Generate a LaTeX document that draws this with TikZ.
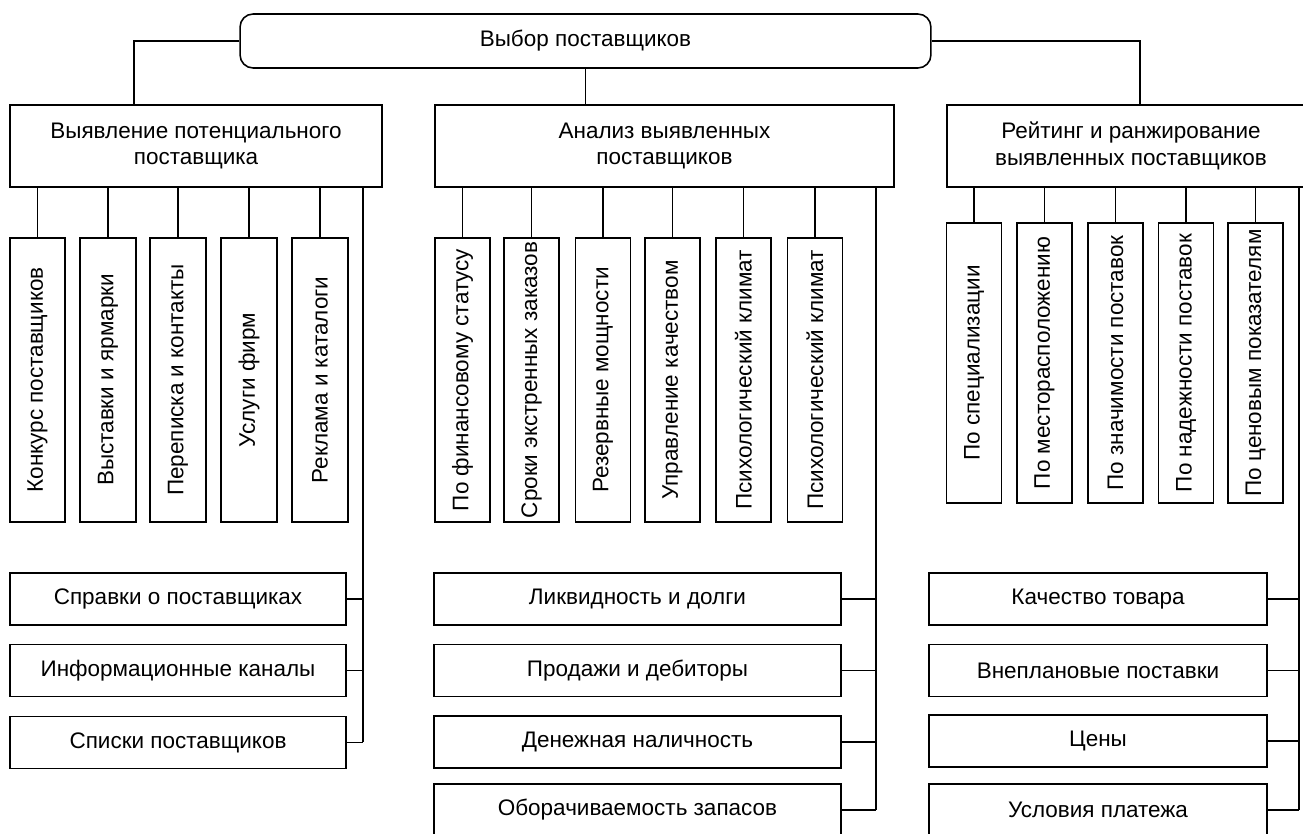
\documentclass[tikz,border=0pt]{standalone}
\usepackage{fontspec}
\setmainfont{Liberation Sans}
\begin{document}
\begin{tikzpicture}[x=0.02cm,y=-0.02cm,
  every node/.style={font=\fontsize{12.8}{15.2}\selectfont},
  box/.style={draw, line width=0.9pt, inner sep=0pt, align=center, rectangle},
  topbox/.style={box, rounded corners=0.26cm, minimum width=13.82cm, minimum height=1.08cm},
  lvl/.style={box, minimum height=1.64cm},
  vbox/.style={box, rotate=90, minimum width=5.68cm, minimum height=1.11cm},
  rvbox/.style={box, rotate=90, minimum width=5.6cm, minimum height=1.1cm},
  hbox/.style={box, minimum height=1.04cm},
  con/.style={line width=0.9pt}]
\useasboundingbox (0,0) rectangle (1303,834);
\clip (0,0) rectangle (1303,834);

% top
\node[topbox] (top) at (585.5,41) {Выбор поставщиков};

% level 2
\node[lvl, minimum width=7.44cm] (L) at (196,146) {Выявление потенциального\\поставщика};
\node[lvl, minimum width=9.18cm] (M) at (664.5,146) {Анализ выявленных\\поставщиков};
\node[lvl, minimum width=7.36cm] (R) at (1131,146) {Рейтинг и ранжирование\\выявленных поставщиков};

\coordinate (lj) at (134,105);
\coordinate (rj) at (1140,105);
\draw[con] (top.west) -| (lj);
\draw[con] (top.east) -| (rj);
\draw[con] (top.south) -- (top.south |- M.north);

% left verticals
\node[vbox] (l1) at (37.5,380) {Конкурс поставщиков};
\node[vbox] (l2) at (108,380) {Выставки и ярмарки};
\node[vbox] (l3) at (178,380) {Переписка и контакты};
\node[vbox] (l4) at (249,380) {Услуги фирм};
\node[vbox] (l5) at (320,380) {Реклама и каталоги};
\foreach \n in {l1,l2,l3,l4,l5} \draw[con] (\n.east) -- (\n.east |- L.south);

% left horizontals
\node[hbox, minimum width=6.72cm] (lh1) at (178,599) {Справки о поставщиках};
\node[hbox, minimum width=6.72cm] (lh2) at (178,670.5) {Информационные каналы};
\node[hbox, minimum width=6.72cm] (lh3) at (178,742.5) {Списки поставщиков};
\coordinate (lt) at (363,187);
\draw[con] (lt) -- (lt |- lh3.east);
\foreach \n in {lh1,lh2,lh3} \draw[con] (\n.east) -- (\n.east -| lt);

% middle verticals
\node[vbox, minimum height=1.1cm] (m1) at (462.5,380) {По финансовому статусу};
\node[vbox, minimum height=1.1cm] (m2) at (531.5,380) {\makebox[0pt]{Сроки экстренных заказов}};
\node[vbox, minimum height=1.1cm] (m3) at (603,380) {Резервные мощности};
\node[vbox, minimum height=1.1cm] (m4) at (672.5,380) {Управление качеством};
\node[vbox, minimum height=1.1cm] (m5) at (743.5,380) {Психологический климат};
\node[vbox, minimum height=1.1cm] (m6) at (815,380) {Психологический климат};
\foreach \n in {m1,m2,m3,m4,m5,m6} \draw[con] (\n.east) -- (\n.east |- M.south);

% middle horizontals
\node[hbox, minimum width=8.14cm] (mh1) at (637.5,599) {Ликвидность и долги};
\node[hbox, minimum width=8.14cm] (mh2) at (637.5,670.5) {Продажи и дебиторы};
\node[hbox, minimum width=8.14cm] (mh3) at (637.5,742) {Денежная наличность};
\node[hbox, minimum width=8.14cm] (mh4) at (637.5,810) {Оборачиваемость запасов};
\coordinate (mt) at (876,187);
\draw[con] (mt) -- (mt |- mh4.east);
\foreach \n in {mh1,mh2,mh3,mh4} \draw[con] (\n.east) -- (\n.east -| mt);

% right verticals
\node[rvbox] (r1) at (974,363) {По специализации};
\node[rvbox] (r2) at (1044.5,363) {По месторасположению};
\node[rvbox] (r3) at (1115.5,363) {По значимости поставок};
\node[rvbox] (r4) at (1186,363) {По надежности поставок};
\node[rvbox] (r5) at (1255.5,363) {По ценовым показателям};
\foreach \n in {r1,r2,r3,r4,r5} \draw[con] (\n.east) -- (\n.east |- R.south);

% right horizontals
\node[hbox, minimum width=6.76cm] (rh1) at (1098,599) {Качество товара};
\node[hbox, minimum width=6.76cm] (rh2) at (1098,670.5) {Внеплановые поставки};
\node[hbox, minimum width=6.76cm] (rh3) at (1098,741) {Цены};
\node[hbox, minimum width=6.76cm] (rh4) at (1098,810) {Условия платежа};
\coordinate (rt) at (1299,187);
\draw[con] (rt) -- (rt |- rh4.east);
\foreach \n in {rh1,rh2,rh3,rh4} \draw[con] (\n.east) -- (\n.east -| rt);
\end{tikzpicture}
\end{document}
